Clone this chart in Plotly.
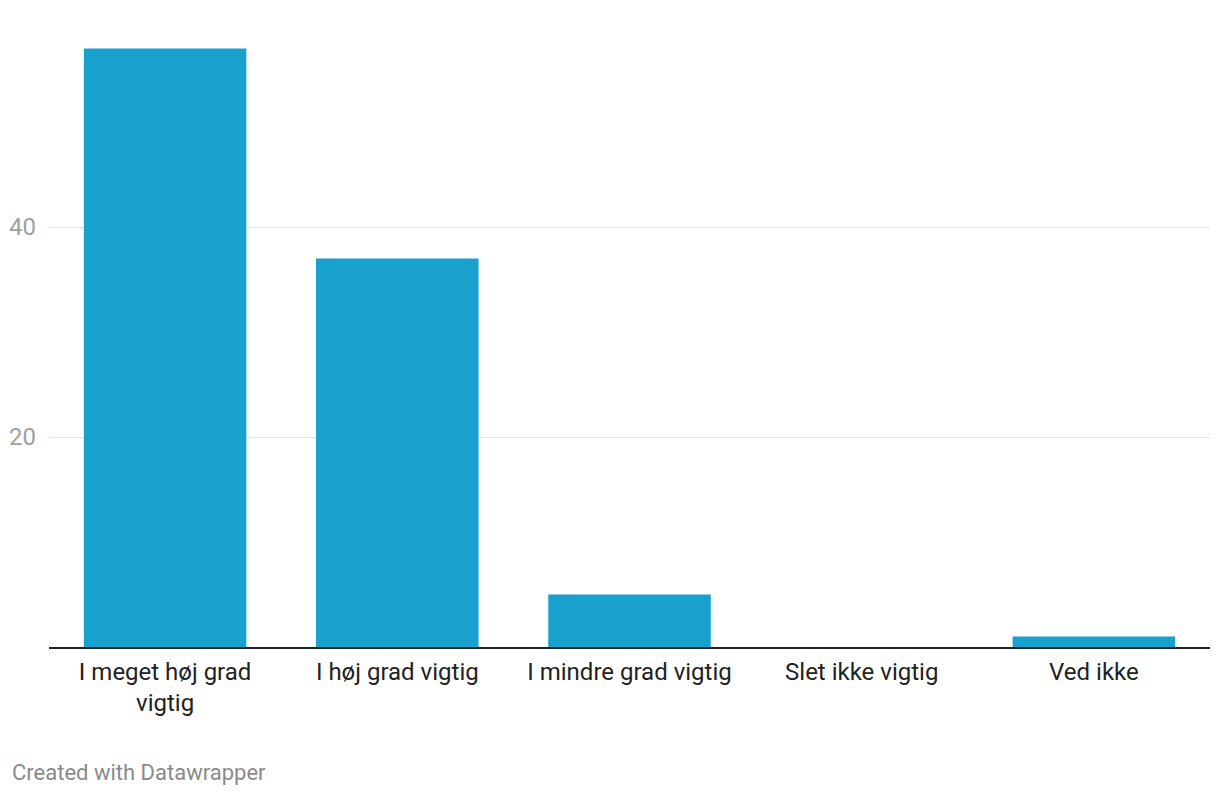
import plotly.graph_objects as go

categories = ["I meget høj grad<br>vigtig", "I høj grad vigtig", "I mindre grad vigtig", "Slet ikke vigtig", "Ved ikke"]
values = [57, 37, 5, 0, 1]
y_ticks = [20, 40]

W, H = 1212, 788
L, R, T, B = 41, 10, 30, 149

fig = go.Figure(go.Bar(
    x=categories, y=values,
    marker=dict(color="#18a1cd", line=dict(width=0)),
    hoverinfo="skip",
))

fig.update_layout(
    width=W, height=H,
    margin=dict(l=L, r=R, t=T, b=B, autoexpand=False),
    paper_bgcolor="white", plot_bgcolor="white",
    bargap=0.3,
    font=dict(family="Roboto", size=24, color="#222222"),
    showlegend=False,
    annotations=[dict(
        text="Created with Datawrapper",
        x=(2 - L) / (W - L - R), y=(H - B - 764) / (H - B - T),
        xref="paper", yref="paper",
        showarrow=False, xanchor="left", yanchor="middle",
        font=dict(family="Roboto", size=22, color="#8a8a8a"),
    )],
)

fig.update_xaxes(
    showline=True, linecolor="#222222", linewidth=2,
    showgrid=False, ticks="", tickfont=dict(size=24, color="#222222"),
    ticklabelstandoff=2, automargin=False,
)
fig.update_yaxes(
    range=[0, 58], tickvals=y_ticks, showgrid=True, gridcolor="#e3e3e3", gridwidth=1,
    zeroline=False, showline=False, ticks="",
    tickfont=dict(size=24, color="#a0a0a0"), ticklabelstandoff=12, automargin=False,
)

fig.write_html("out.html")
